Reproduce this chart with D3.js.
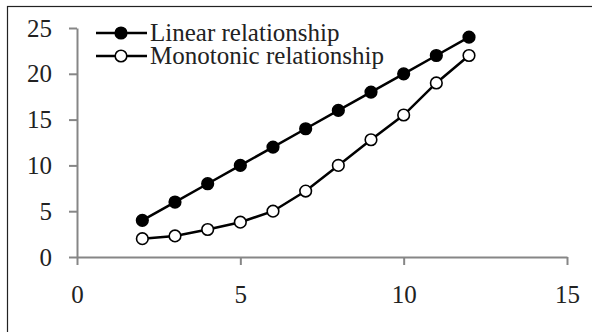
<!DOCTYPE html>
<html>
<head>
<meta charset="utf-8">
<script src="https://cdn.jsdelivr.net/npm/d3@7"></script>
<style>
  html, body { margin: 0; padding: 0; background: #fff; }
  svg { display: block; }
</style>
</head>
<body>
<svg id="chart" width="592" height="332"></svg>
<script>
// Series data
const xValues = [2, 3, 4, 5, 6, 7, 8, 9, 10, 11, 12];
const linearValues = [4, 6, 8, 10, 12, 14, 16, 18, 20, 22, 24];
const monotonicValues = [2, 2.3, 3, 3.8, 5, 7.2, 10, 12.8, 15.5, 19, 22];
const seriesNames = ["Linear relationship", "Monotonic relationship"];
const xTicks = [0, 5, 10, 15];
const yTicks = [0, 5, 10, 15, 20, 25];

const svg = d3.select("#chart");
const font = "'Liberation Serif', 'Times New Roman', serif";
const fontSize = 25;
const axisColor = "#868686";

// Outer frame
svg.append("rect")
  .attr("x", 7.5).attr("y", 6.5)
  .attr("width", 600).attr("height", 400)
  .attr("fill", "none").attr("stroke", "#222").attr("stroke-width", 1.2);

const x = d3.scaleLinear().domain([0, 15]).range([77, 567]);
const y = d3.scaleLinear().domain([0, 25]).range([257, 28]);

// Y axis
const yAxis = svg.append("g").attr("transform", `translate(${x(0)},0)`)
  .call(d3.axisLeft(y).tickValues(yTicks).tickSize(8).tickSizeOuter(0).tickPadding(17));
yAxis.select(".domain").attr("stroke", axisColor).attr("stroke-width", 2);
yAxis.selectAll(".tick line").attr("stroke", axisColor).attr("stroke-width", 2);
yAxis.selectAll(".tick text")
  .attr("font-family", font).attr("font-size", fontSize).attr("fill", "#222");

// X axis (ticks point downward from the baseline, labels well below)
const xAxis = svg.append("g").attr("transform", `translate(0,${y(0)})`)
  .call(d3.axisBottom(x).tickValues(xTicks).tickSize(8).tickSizeOuter(0).tickPadding(20));
xAxis.select(".domain").attr("stroke", axisColor).attr("stroke-width", 2);
xAxis.selectAll(".tick line").attr("stroke", axisColor).attr("stroke-width", 2);
xAxis.selectAll(".tick text")
  .attr("font-family", font).attr("font-size", fontSize).attr("fill", "#222");

const line = d3.line().x(d => x(d[0])).y(d => y(d[1]));

function drawSeries(values, fill) {
  const pts = xValues.map((v, i) => [v, values[i]]);
  svg.append("path").datum(pts)
    .attr("d", line).attr("fill", "none")
    .attr("stroke", "#000").attr("stroke-width", 2.5);
  svg.append("g").selectAll("circle").data(pts).join("circle")
    .attr("cx", d => x(d[0])).attr("cy", d => y(d[1]))
    .attr("r", 5.8).attr("fill", fill)
    .attr("stroke", "#000").attr("stroke-width", 1.6);
}

drawSeries(linearValues, "#000");
drawSeries(monotonicValues, "#fff");

// Legend
const legend = svg.append("g");
const legendRows = [
  { name: seriesNames[0], fill: "#000", y: 33 },
  { name: seriesNames[1], fill: "#fff", y: 56 }
];
legendRows.forEach(r => {
  legend.append("line")
    .attr("x1", 96).attr("x2", 147).attr("y1", r.y).attr("y2", r.y)
    .attr("stroke", "#000").attr("stroke-width", 2.5);
  legend.append("circle")
    .attr("cx", 121).attr("cy", r.y).attr("r", 5.8)
    .attr("fill", r.fill).attr("stroke", "#000").attr("stroke-width", 1.6);
  legend.append("text")
    .attr("x", 150).attr("y", r.y).attr("dy", "0.33em")
    .attr("font-family", font).attr("font-size", fontSize).attr("fill", "#222")
    .text(r.name);
});
</script>
</body>
</html>
